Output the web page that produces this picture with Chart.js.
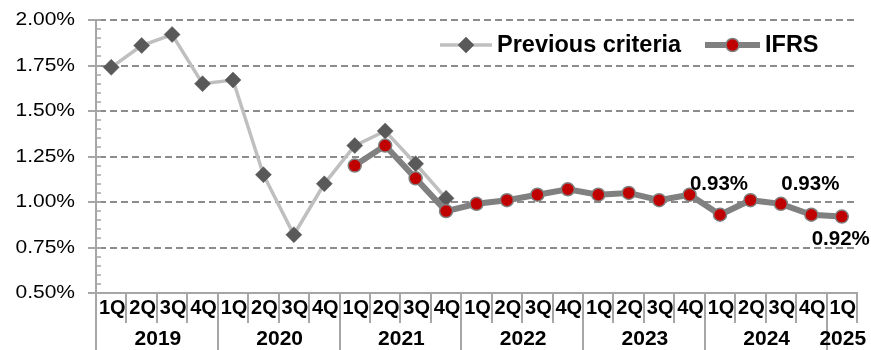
<!DOCTYPE html>
<html>
<head>
<meta charset="utf-8">
<script src="https://cdn.jsdelivr.net/npm/chart.js@4.4.1/dist/chart.umd.min.js"></script>
<style>
  html, body { margin: 0; padding: 0; background: #fff; }
  #wrap { width: 871px; height: 350px; }
</style>
</head>
<body>
<div id="wrap"><canvas id="c" width="871" height="350"></canvas></div>
<script>
// Quarter labels along the x axis (2019 1Q .. 2025 1Q)
const quarters = ['1Q','2Q','3Q','4Q','1Q','2Q','3Q','4Q','1Q','2Q','3Q','4Q',
                  '1Q','2Q','3Q','4Q','1Q','2Q','3Q','4Q','1Q','2Q','3Q','4Q','1Q'];
// Year groups and how many quarters each spans
const years = ['2019','2020','2021','2022','2023','2024','2025'];
const quartersPerYear = [4, 4, 4, 4, 4, 4, 1];

// Ratio (%) under the previous criteria, up to 4Q 2021
const previousCriteria = [1.74, 1.86, 1.92, 1.65, 1.67, 1.15, 0.82, 1.10, 1.31, 1.39, 1.21, 1.02,
                          null, null, null, null, null, null, null, null, null, null, null, null, null];
// Ratio (%) under IFRS, from 1Q 2021
const ifrs = [null, null, null, null, null, null, null, null,
              1.20, 1.31, 1.13, 0.95, 0.99, 1.01, 1.04, 1.07, 1.04, 1.05, 1.01, 1.04,
              0.93, 1.01, 0.99, 0.93, 0.92];

// Y axis tick values (%)
const yTicks = [0.50, 0.75, 1.00, 1.25, 1.50, 1.75, 2.00];
// IFRS points that carry a value label
const labelledAbove = [20, 23];
const labelledBelow = [24];

const categories = quarters.map((q, i) => q + ' ' + i);

const FONT = "'Liberation Sans', Arial, Helvetica, sans-serif";
const AXIS = '#a6a6a6';
const GRID = '#8c8c8c';

// text drawn slightly widened horizontally
function wideText(ctx, text, x, y, sx) {
  ctx.save();
  ctx.translate(x, y);
  ctx.scale(sx, 1);
  ctx.fillText(text, 0, 0);
  ctx.restore();
}

const decor = {
  id: 'decor',
  beforeDatasetsDraw(chart) {
    const { ctx, chartArea: a, scales: { y } } = chart;
    ctx.save();
    ctx.strokeStyle = GRID;
    ctx.lineWidth = 2;
    ctx.setLineDash([7, 4]);
    yTicks.forEach(v => {
      if (v <= y.min) return;
      const py = Math.round(y.getPixelForValue(v));
      ctx.beginPath();
      ctx.moveTo(a.left + 3, py);
      ctx.lineTo(a.right, py);
      ctx.stroke();
    });
    ctx.restore();
  },
  afterDraw(chart) {
    const { ctx, chartArea: a, scales: { x, y } } = chart;
    ctx.save();
    ctx.setLineDash([]);
    ctx.strokeStyle = AXIS;

    // y axis tick marks: minor every 0.05%, major every 0.25%
    for (let k = 0; k <= 30; k++) {
      const v = y.min + k * 0.05;
      const py = Math.round(y.getPixelForValue(v));
      const major = k % 5 === 0;
      ctx.lineWidth = major ? 2 : 1.5;
      ctx.beginPath();
      ctx.moveTo(a.left - (major ? 8 : 0), py);
      ctx.lineTo(a.left + 5, py);
      ctx.stroke();
    }

    // y axis tick labels
    ctx.fillStyle = '#000';
    ctx.textAlign = 'right';
    ctx.textBaseline = 'middle';
    ctx.font = '17.5px ' + FONT;
    yTicks.forEach(v => {
      wideText(ctx, v.toFixed(2) + '%', a.left - 21, y.getPixelForValue(v) + 0.5, 1.2);
    });

    // category axis: quarter row and year row with separators
    const step = x.getPixelForValue(1) - x.getPixelForValue(0);
    const rowQ = a.bottom + 15;
    const rowY = a.bottom + 46;
    const bottom = chart.height;
    ctx.lineWidth = 2;
    // left edge runs through both rows
    ctx.beginPath();
    ctx.moveTo(a.left, a.bottom);
    ctx.lineTo(a.left, bottom);
    ctx.stroke();

    ctx.textAlign = 'center';
    ctx.font = 'bold 20px ' + FONT;
    quarters.forEach((q, i) => {
      const cx = x.getPixelForValue(i);
      ctx.fillText(q, cx + 1, rowQ);
      const edge = Math.round(cx + step / 2);
      ctx.beginPath();
      ctx.moveTo(edge, a.bottom);
      ctx.lineTo(edge, rowQ + 15);
      ctx.stroke();
    });

    ctx.font = 'bold 21px ' + FONT;
    let start = 0;
    years.forEach((yr, g) => {
      const n = quartersPerYear[g];
      const first = x.getPixelForValue(start);
      const last = x.getPixelForValue(start + n - 1);
      ctx.fillText(yr, (first + last) / 2 + 1, rowY);
      if (g < years.length - 1) {
        const edge = Math.round(last + step / 2);
        ctx.beginPath();
        ctx.moveTo(edge, a.bottom);
        ctx.lineTo(edge, bottom);
        ctx.stroke();
      }
      start += n;
    });

    // value labels on IFRS points
    const meta = chart.getDatasetMeta(1);
    ctx.font = 'bold 20.5px ' + FONT;
    labelledAbove.forEach(i => {
      const el = meta.data[i];
      ctx.fillText(ifrs[i].toFixed(2) + '%', el.x - 1, el.y - 30);
    });
    labelledBelow.forEach(i => {
      const el = meta.data[i];
      ctx.fillText(ifrs[i].toFixed(2) + '%', el.x - 1, el.y + 23);
    });

    // legend
    const ly = a.top + 25;
    const items = [
      { ds: chart.data.datasets[0], x0: 440, x1: 492, tx: 497 },
      { ds: chart.data.datasets[1], x0: 705, x1: 760, tx: 765 }
    ];
    ctx.font = 'bold 23.5px ' + FONT;
    ctx.textAlign = 'left';
    items.forEach(it => {
      ctx.strokeStyle = it.ds.borderColor;
      ctx.lineWidth = it.ds.borderWidth;
      ctx.beginPath();
      ctx.moveTo(it.x0, ly);
      ctx.lineTo(it.x1, ly);
      ctx.stroke();
      ctx.fillStyle = it.ds.pointBackgroundColor;
      ctx.strokeStyle = it.ds.pointBorderColor;
      ctx.lineWidth = it.ds.pointBorderWidth;
      Chart.helpers.drawPoint(ctx, {
        pointStyle: it.ds.pointStyle,
        radius: it.ds.pointRadius,
        borderWidth: it.ds.pointBorderWidth,
        rotation: 0
      }, (it.x0 + it.x1) / 2, ly);
      ctx.fillStyle = '#000';
      ctx.fillText(it.ds.label, it.tx, ly + 1);
    });
    ctx.restore();
  }
};

new Chart(document.getElementById('c'), {
  type: 'line',
  data: {
    labels: categories,
    datasets: [
      {
        label: 'Previous criteria',
        data: previousCriteria,
        borderColor: '#bfbfbf',
        borderWidth: 3.5,
        pointStyle: 'rectRot',
        pointRadius: 8,
        pointBackgroundColor: '#595959',
        pointBorderColor: '#595959',
        pointBorderWidth: 0.5,
        tension: 0,
        spanGaps: false,
        order: 1
      },
      {
        label: 'IFRS',
        data: ifrs,
        borderColor: '#808080',
        borderWidth: 6,
        pointStyle: 'circle',
        pointRadius: 6.5,
        pointBackgroundColor: '#c00000',
        pointBorderColor: '#808080',
        pointBorderWidth: 1.5,
        tension: 0,
        spanGaps: false,
        order: 0
      }
    ]
  },
  options: {
    responsive: false,
    animation: false,
    devicePixelRatio: 1,
    layout: { padding: { top: 20, right: 14, left: 0, bottom: 0 } },
    plugins: {
      legend: { display: false },
      tooltip: { enabled: false }
    },
    scales: {
      x: {
        type: 'category',
        offset: true,
        grid: { display: false },
        ticks: { display: false },
        border: { display: true, color: AXIS, width: 2 },
        afterFit(s) { s.height = 57; }
      },
      y: {
        min: 0.5,
        max: 2.0,
        grid: { display: false, drawTicks: false },
        border: { display: true, color: AXIS, width: 2 },
        ticks: { display: false, stepSize: 0.25 },
        afterFit(s) { s.width = 96; }
      }
    }
  },
  plugins: [decor]
});
</script>
</body>
</html>
